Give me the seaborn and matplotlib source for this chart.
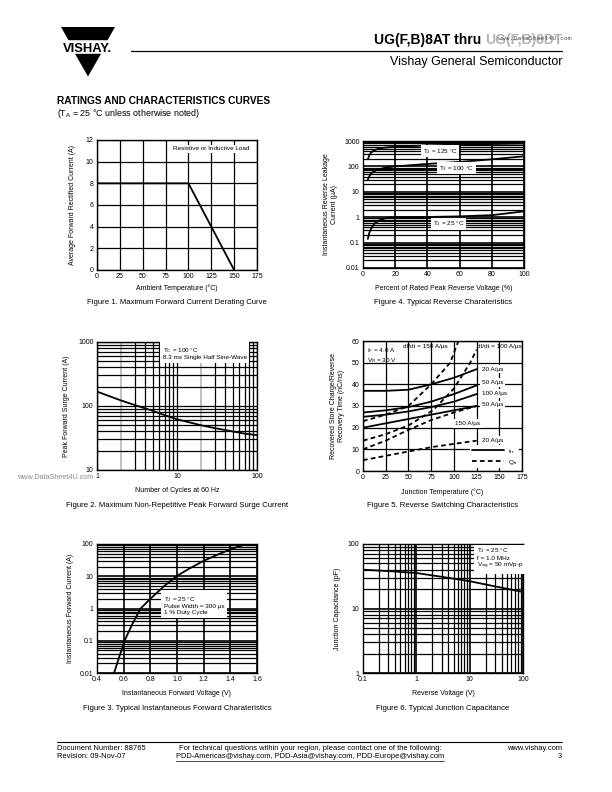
import numpy as np
import pandas as pd
import matplotlib
matplotlib.use("Agg")
import matplotlib.pyplot as plt
import seaborn as sns
from matplotlib import font_manager
from matplotlib.ticker import FixedLocator, NullFormatter, NullLocator
from matplotlib.patches import Polygon
from matplotlib.lines import Line2D

# ---------------- data ----------------
fig1_temp = [0, 100, 150]
fig1_current = [8, 8, 0]
fig1_xticks = [0, 25, 50, 75, 100, 125, 150, 175]
fig1_yticks = [0, 2, 4, 6, 8, 10, 12]

fig2_cycles = [1, 2, 3, 5, 7, 10, 20, 30, 50, 70, 100]
fig2_surge = [168, 122, 103, 84, 72, 62, 50, 45, 40, 37, 35]
fig2_xticks = [1, 10, 100]
fig2_xlabels = ["1", "10", "100"]
fig2_yticks = [10, 100, 1000]
fig2_ylabels = ["10", "100", "1000"]

fig3_vf = [0.528, 0.565, 0.607, 0.66, 0.727, 0.8, 0.9, 0.995, 1.1, 1.2, 1.3, 1.4, 1.5]
fig3_if = [0.01, 0.03, 0.1, 0.3, 1.0, 2.0, 4.8, 10, 18, 30, 46, 68, 95]
fig3_xticks = [0.4, 0.6, 0.8, 1.0, 1.2, 1.4, 1.6]
fig3_xlabels = ["0.4", "0.6", "0.8", "1.0", "1.2", "1.4", "1.6"]
fig3_yticks = [0.01, 0.1, 1, 10, 100]
fig3_ylabels = ["0.01", "0.1", "1", "10", "100"]

fig4_pct = [3, 4, 5, 7, 10, 15, 20, 40, 60, 80, 100]
fig4_t125 = [190, 280, 350, 430, 510, 560, 590, 670, 720, 760, 800]
fig4_t100 = [30, 42, 52, 65, 78, 92, 100, 125, 150, 190, 250]
fig4_t25 = [0.14, 0.25, 0.35, 0.55, 0.75, 0.95, 1.0, 1.02, 1.08, 1.2, 1.7]
fig4_xticks = [0, 20, 40, 60, 80, 100]
fig4_yticks = [0.01, 0.1, 1, 10, 100, 1000]
fig4_ylabels = ["0.01", "0.1", "1", "10", "100", "1000"]

fig5_temp = [0, 25, 50, 75, 100, 125]
fig5_trr_20 = [37, 37, 37.5, 40, 43, 47]
fig5_trr_50 = [27, 28, 29.5, 32, 35.5, 39.5]
fig5_trr_100 = [25, 26, 27.5, 29.5, 32, 35.5]
fig5_trr_150 = [20, 22, 24, 26, 28, 30]
fig5_qrr_150_temp = [0, 25, 50, 75, 96, 105]
fig5_qrr_150 = [23, 26, 30, 40, 50, 60]
fig5_qrr_100_temp = [0, 25, 50, 77, 100, 118, 125]
fig5_qrr_100 = [14, 17, 21, 28, 38, 50, 56]
fig5_qrr_50 = [10, 14, 19, 23.5, 27, 30]
fig5_qrr_20 = [5, 7, 9, 11, 12.5, 14]
fig5_xticks = [0, 25, 50, 75, 100, 125, 150, 175]
fig5_yticks = [0, 10, 20, 30, 40, 50, 60]

fig6_vr = [0.1, 0.3, 1, 3, 10, 30, 100]
fig6_cap = [40, 38, 35.5, 31, 26.5, 22, 18]
fig6_xticks = [0.1, 1, 10, 100]
fig6_xlabels = ["0.1", "1", "10", "100"]
fig6_yticks = [1, 10, 100]
fig6_ylabels = ["1", "10", "100"]

# ---------------- style ----------------
sns.set_theme(style="white")
names = {f.name for f in font_manager.fontManager.ttflist}
BASE = "Liberation Sans" if "Liberation Sans" in names else "DejaVu Sans"
NARROW = "Liberation Sans Narrow" if "Liberation Sans Narrow" in names else BASE
plt.rcParams["font.family"] = [BASE, "DejaVu Sans"]
plt.rcParams["text.color"] = "black"
plt.rcParams["axes.labelcolor"] = "black"
plt.rcParams["xtick.color"] = "black"
plt.rcParams["ytick.color"] = "black"
plt.rcParams["axes.edgecolor"] = "black"
plt.rcParams["axes.linewidth"] = 1.0
plt.rcParams["mathtext.fontset"] = "custom"
plt.rcParams["mathtext.rm"] = BASE
plt.rcParams["mathtext.it"] = BASE
plt.rcParams["mathtext.default"] = "regular"

W, H = 612, 792
fig = plt.figure(figsize=(W / 100, H / 100), dpi=100)
fig.patch.set_facecolor("white")

TICK_FS = 5.0
LAB_FS = 5.0
CAP_FS = 5.6
GRID_LW = 0.9
CURVE_LW = 1.3


def add_ax(l, t, r, b):
    return fig.add_axes([l / W, 1 - b / H, (r - l) / W, (b - t) / H])


def ftext(x, y, s, **kw):
    kw.setdefault("color", "black")
    return fig.text(x / W, 1 - y / H, s, **kw)


def style_ax(ax):
    ax.set_facecolor("white")
    for sp in ax.spines.values():
        sp.set_visible(True)
        sp.set_color("black")
        sp.set_linewidth(1.0)
    ax.tick_params(which="both", length=0, pad=2.5, labelsize=TICK_FS, colors="black")
    ax.set_axisbelow(True)


def log_minor(decades):
    locs = []
    for d in decades:
        for k in range(2, 10):
            locs.append(k * d)
    return locs


def finish_labels(ax, xlabel, ylabel, ylabelpad=4, xlabelpad=3):
    ax.set_xlabel(xlabel, fontsize=LAB_FS, labelpad=xlabelpad, color="black")
    ax.set_ylabel(ylabel, fontsize=LAB_FS, labelpad=ylabelpad, color="black")
    for lab in ax.get_xticklabels() + ax.get_yticklabels():
        lab.set_fontfamily(NARROW)
        lab.set_fontsize(TICK_FS)
        lab.set_color("black")


white_box = dict(facecolor="white", edgecolor="none", pad=1.2)
ANN_FS = 4.6

# ---------------- Figure 1 ----------------
ax1 = add_ax(97, 140, 257, 270)
df1 = pd.DataFrame({"T": fig1_temp, "I": fig1_current})
sns.lineplot(data=df1, x="T", y="I", ax=ax1, color="black", lw=CURVE_LW)
ax1.set_xlim(0, 175)
ax1.set_ylim(0, 12)
ax1.set_xticks(fig1_xticks)
ax1.set_yticks(fig1_yticks)
ax1.grid(True, color="black", lw=GRID_LW)
style_ax(ax1)
ax1.text(125, 11.2, "Resistive or Inductive Load", fontsize=ANN_FS, ha="center", va="center",
         bbox=white_box)
finish_labels(ax1, "Ambient Temperature (°C)", "Average Forward Rectified Current (A)", ylabelpad=7)
ftext(177, 303, "Figure 1. Maximum Forward Current Derating Curve", fontsize=CAP_FS, ha="center", va="center")

# ---------------- Figure 4 ----------------
ax4 = add_ax(363, 141, 524, 268)
df4 = pd.DataFrame({"V": fig4_pct * 3,
                    "I": fig4_t125 + fig4_t100 + fig4_t25,
                    "T": ["125"] * len(fig4_pct) + ["100"] * len(fig4_pct) + ["25"] * len(fig4_pct)})
sns.lineplot(data=df4, x="V", y="I", units="T", estimator=None, ax=ax4, color="black", lw=CURVE_LW)
ax4.set_yscale("log")
ax4.set_xlim(0, 100)
ax4.set_ylim(0.01, 1000)
ax4.set_xticks(fig4_xticks)
ax4.yaxis.set_major_locator(FixedLocator(fig4_yticks))
ax4.set_yticklabels(fig4_ylabels)
ax4.yaxis.set_minor_locator(FixedLocator(log_minor([0.01, 0.1, 1, 10, 100])))
ax4.yaxis.set_minor_formatter(NullFormatter())
ax4.xaxis.set_minor_locator(NullLocator())
ax4.grid(True, which="major", color="black", lw=1.2)
ax4.grid(True, which="minor", axis="y", color="black", lw=GRID_LW)
style_ax(ax4)
ax4.text(48, 400, "T$_J$ = 125 °C", fontsize=ANN_FS, ha="center", va="center", bbox=white_box)
ax4.text(58, 85, "T$_J$ = 100 °C", fontsize=ANN_FS, ha="center", va="center", bbox=white_box)
ax4.text(53, 0.55, "T$_J$ = 25 °C", fontsize=ANN_FS, ha="center", va="center", bbox=white_box)
finish_labels(ax4, "Percent of Rated Peak Reverse Voltage (%)",
              "Instantaneous Reverse Leakage\nCurrent (µA)", ylabelpad=4, xlabelpad=5)
ftext(443, 303, "Figure 4. Typical Reverse Charateristics", fontsize=CAP_FS, ha="center", va="center")

# ---------------- Figure 2 ----------------
ax2 = add_ax(97, 342, 257, 470)
df2 = pd.DataFrame({"N": fig2_cycles, "I": fig2_surge})
sns.lineplot(data=df2, x="N", y="I", ax=ax2, color="black", lw=CURVE_LW)
ax2.set_xscale("log")
ax2.set_yscale("log")
ax2.set_xlim(1, 100)
ax2.set_ylim(10, 1000)
ax2.xaxis.set_major_locator(FixedLocator(fig2_xticks))
ax2.set_xticklabels(fig2_xlabels)
ax2.yaxis.set_major_locator(FixedLocator(fig2_yticks))
ax2.set_yticklabels(fig2_ylabels)
xm = [v for v in log_minor([1, 10]) if v not in (2, 20)]
ax2.xaxis.set_minor_locator(FixedLocator(xm))
ax2.xaxis.set_minor_formatter(NullFormatter())
ax2.yaxis.set_minor_locator(FixedLocator(log_minor([10, 100])))
ax2.yaxis.set_minor_formatter(NullFormatter())
ax2.grid(True, which="both", color="black", lw=GRID_LW)
for gv in (2, 20):
    ax2.axvline(gv, color="#b0b0b0", lw=1.1, zorder=0.5)
style_ax(ax2)
ax2.text(6.6, 870, "T$_C$ = 100 °C\n8.3 ms Single Half Sine-Wave", fontsize=ANN_FS, ha="left", va="top",
         linespacing=1.1, bbox=dict(facecolor="white", edgecolor="none", pad=2.0))
finish_labels(ax2, "Number of Cycles at 60 Hz", "Peak Forward Surge Current (A)", ylabelpad=6, xlabelpad=5)
ftext(177, 506, "Figure 2. Maximum Non-Repetitive Peak Forward Surge Current", fontsize=CAP_FS,
      ha="center", va="center")
ftext(17, 478, "www.DataSheet4U.com", fontsize=5.2, color="#8a8a8a", ha="left", va="center")

# ---------------- Figure 5 ----------------
ax5 = add_ax(363, 341, 522, 471)
trr = pd.DataFrame({"T": fig5_temp * 4,
                    "v": fig5_trr_20 + fig5_trr_50 + fig5_trr_100 + fig5_trr_150,
                    "s": ["20"] * 6 + ["50"] * 6 + ["100"] * 6 + ["150"] * 6})
sns.lineplot(data=trr, x="T", y="v", units="s", estimator=None, ax=ax5, color="black", lw=CURVE_LW)
qrr = pd.DataFrame({"T": fig5_qrr_150_temp + fig5_qrr_100_temp + fig5_temp + fig5_temp,
                    "v": fig5_qrr_150 + fig5_qrr_100 + fig5_qrr_50 + fig5_qrr_20,
                    "s": ["150"] * len(fig5_qrr_150) + ["100"] * len(fig5_qrr_100) + ["50"] * 6 + ["20"] * 6})
sns.lineplot(data=qrr, x="T", y="v", units="s", estimator=None, ax=ax5, color="black", lw=CURVE_LW,
             linestyle="--")
for ln in ax5.lines[4:]:
    ln.set_dashes((2.6, 1.8))
ax5.set_xlim(0, 175)
ax5.set_ylim(0, 60)
ax5.set_xticks(fig5_xticks)
ax5.set_yticks(fig5_yticks)
ax5.grid(True, color="black", lw=GRID_LW)
style_ax(ax5)
ax5.text(4, 57.5, "I$_F$ = 4.0 A\nV$_R$ = 30 V", fontsize=ANN_FS, ha="left", va="top", linespacing=1.15)
ax5.text(69, 57.6, "dI/dt = 150 A/µs", fontsize=ANN_FS, ha="center", va="center")
ax5.text(150, 57.6, "dI/dt = 100 A/µs", fontsize=ANN_FS, ha="center", va="center")
ax5.text(131, 47, "20 A/µs", fontsize=ANN_FS, ha="left", va="center", bbox=white_box)
ax5.text(131, 40.9, "50 A/µs", fontsize=ANN_FS, ha="left", va="center", bbox=white_box)
ax5.text(131, 35.8, "100 A/µs", fontsize=ANN_FS, ha="left", va="center", bbox=white_box)
ax5.text(131, 30.5, "50 A/µs", fontsize=ANN_FS, ha="left", va="center", bbox=white_box)
ax5.text(101, 21.9, "150 A/µs", fontsize=ANN_FS, ha="left", va="center", bbox=white_box)
ax5.text(131, 14.2, "20 A/µs", fontsize=ANN_FS, ha="left", va="center", bbox=white_box)
h_trr = Line2D([], [], color="black", lw=CURVE_LW)
h_qrr = Line2D([], [], color="black", lw=CURVE_LW, dashes=(2.6, 1.8))
leg = ax5.legend([h_trr, h_qrr], ["t$_{rr}$", "Q$_{rr}$"], loc="lower right", fontsize=ANN_FS,
                 frameon=True, handlelength=5.0, borderpad=0.3, labelspacing=0.3,
                 handletextpad=0.6, borderaxespad=0.4, fancybox=False)
leg.get_frame().set_edgecolor("none")
leg.get_frame().set_facecolor("white")
leg.get_frame().set_alpha(1)
for t in leg.get_texts():
    t.set_color("black")
finish_labels(ax5, "Junction Temperature (°C)", "Recovered Store Charge/Reverse\nRecovery Time (nC/ns)",
              ylabelpad=5, xlabelpad=5)
ftext(443, 506, "Figure 5. Reverse Switching Characteristics", fontsize=CAP_FS, ha="center", va="center")

# ---------------- Figure 3 ----------------
ax3 = add_ax(97, 544, 257, 673)
df3 = pd.DataFrame({"V": fig3_vf, "I": fig3_if})
sns.lineplot(data=df3, x="V", y="I", ax=ax3, color="black", lw=CURVE_LW)
ax3.set_yscale("log")
ax3.set_xlim(0.4, 1.6)
ax3.set_ylim(0.01, 100)
ax3.xaxis.set_major_locator(FixedLocator(fig3_xticks))
ax3.set_xticklabels(fig3_xlabels)
ax3.xaxis.set_minor_locator(NullLocator())
ax3.yaxis.set_major_locator(FixedLocator(fig3_yticks))
ax3.set_yticklabels(fig3_ylabels)
ax3.yaxis.set_minor_locator(FixedLocator(log_minor([0.01, 0.1, 1, 10])))
ax3.yaxis.set_minor_formatter(NullFormatter())
ax3.grid(True, which="major", color="black", lw=1.2)
ax3.grid(True, which="minor", axis="y", color="black", lw=GRID_LW)
style_ax(ax3)
ax3.text(0.9, 2.6, "T$_J$ = 25 °C\nPulse Width = 300 µs\n1 % Duty Cycle", fontsize=ANN_FS,
         ha="left", va="top", linespacing=1.1, bbox=dict(facecolor="white", edgecolor="none", pad=2.0))
finish_labels(ax3, "Instantaneous Forward Voltage (V)", "Instantaneous Forward Current (A)",
              ylabelpad=4, xlabelpad=5)
ftext(177, 708, "Figure 3. Typical Instantaneous Forward Charateristics", fontsize=CAP_FS,
      ha="center", va="center")

# ---------------- Figure 6 ----------------
ax6 = add_ax(363, 544, 523, 673)
df6 = pd.DataFrame({"V": fig6_vr, "C": fig6_cap})
sns.lineplot(data=df6, x="V", y="C", ax=ax6, color="black", lw=CURVE_LW)
ax6.set_xscale("log")
ax6.set_yscale("log")
ax6.set_xlim(0.1, 100)
ax6.set_ylim(1, 100)
ax6.xaxis.set_major_locator(FixedLocator(fig6_xticks))
ax6.set_xticklabels(fig6_xlabels)
ax6.xaxis.set_minor_locator(FixedLocator(log_minor([0.1, 1, 10])))
ax6.xaxis.set_minor_formatter(NullFormatter())
ax6.yaxis.set_major_locator(FixedLocator(fig6_yticks))
ax6.set_yticklabels(fig6_ylabels)
ax6.yaxis.set_minor_locator(FixedLocator(log_minor([1, 10])))
ax6.yaxis.set_minor_formatter(NullFormatter())
ax6.grid(True, which="major", color="black", lw=1.2)
ax6.grid(True, which="minor", color="black", lw=GRID_LW)
style_ax(ax6)
ax6.text(13.5, 92, "T$_J$ = 25 °C\nf = 1.0 MHz\nV$_{sig}$ = 50 mVp-p", fontsize=ANN_FS,
         ha="left", va="top", linespacing=1.1, bbox=dict(facecolor="white", edgecolor="none", pad=2.0))
finish_labels(ax6, "Reverse Voltage (V)", "Junction Capacitance (pF)", ylabelpad=5, xlabelpad=5)
ftext(443, 708, "Figure 6. Typical Junction Capacitance", fontsize=CAP_FS, ha="center", va="center")

for ax in (ax1, ax2, ax3, ax4, ax6):
    if ax.get_legend() is not None:
        ax.get_legend().remove()

# ---------------- header ----------------
tr = fig.transFigure


def px(x, y):
    return (x / W, 1 - y / H)


fig.patches.append(Polygon([px(61, 27), px(115, 27), px(107.5, 40.2), px(68.5, 40.2)], closed=True,
                           transform=tr, facecolor="black", edgecolor="none"))
fig.patches.append(Polygon([px(75, 53.8), px(101, 53.8), px(88, 76.5)], closed=True,
                           transform=tr, facecolor="black", edgecolor="none"))
ftext(87.5, 47.4, "VISHAY.", fontsize=9.4, fontweight="bold", ha="center", va="center_baseline")

fig.lines.append(Line2D([131 / W, 562 / W], [1 - 51.3 / H, 1 - 51.3 / H], transform=tr, color="black", lw=0.9))
t_gray = ftext(562, 40, "UG(F,B)8DT", fontsize=10, fontweight="bold", ha="right", va="center",
               color="#b4b4b4")
fig.canvas.draw()
gbb = t_gray.get_window_extent()
ftext(gbb.x0 - 3.2, 40, "UG(F,B)8AT thru", fontsize=10, fontweight="bold", ha="right", va="center")
ftext(572, 38, "www.DataSheet4U.com", fontsize=4.6, color="#505050", ha="right", va="center",
      family=["DejaVu Sans Mono", "DejaVu Sans"])
ftext(562, 62, "Vishay General Semiconductor", fontsize=9, ha="right", va="center")

ftext(57, 101, "RATINGS AND CHARACTERISTICS CURVES", fontsize=7.3, fontweight="bold", ha="left", va="center")
ftext(57, 113, "(T$_A$ = 25 °C unless otherwise noted)", fontsize=6.4, ha="left", va="center")

# ---------------- footer ----------------
fig.lines.append(Line2D([57 / W, 562 / W], [1 - 742 / H, 1 - 742 / H], transform=tr, color="black", lw=0.8))
FFS = 5.4
ftext(57, 748, "Document Number: 88765", fontsize=FFS, ha="left", va="center")
ftext(57, 757, "Revision: 09-Nov-07", fontsize=FFS, ha="left", va="center")
ftext(310, 748, "For technical questions within your region, please contact one of the following:",
      fontsize=FFS, ha="center", va="center")
mails = ftext(310, 757, "PDD-Americas@vishay.com, PDD-Asia@vishay.com, PDD-Europe@vishay.com",
              fontsize=FFS, ha="center", va="center")
ftext(562, 748, "www.vishay.com", fontsize=FFS, ha="right", va="center")
ftext(562, 757, "3", fontsize=FFS, ha="right", va="center")

fig.canvas.draw()
bb = mails.get_window_extent()
uy = bb.y0 - 0.5
fig.lines.append(Line2D([bb.x0 / W, bb.x1 / W], [uy / H, uy / H], transform=tr, color="black", lw=0.5))

fig.savefig("out.png", dpi=100, facecolor="white")
